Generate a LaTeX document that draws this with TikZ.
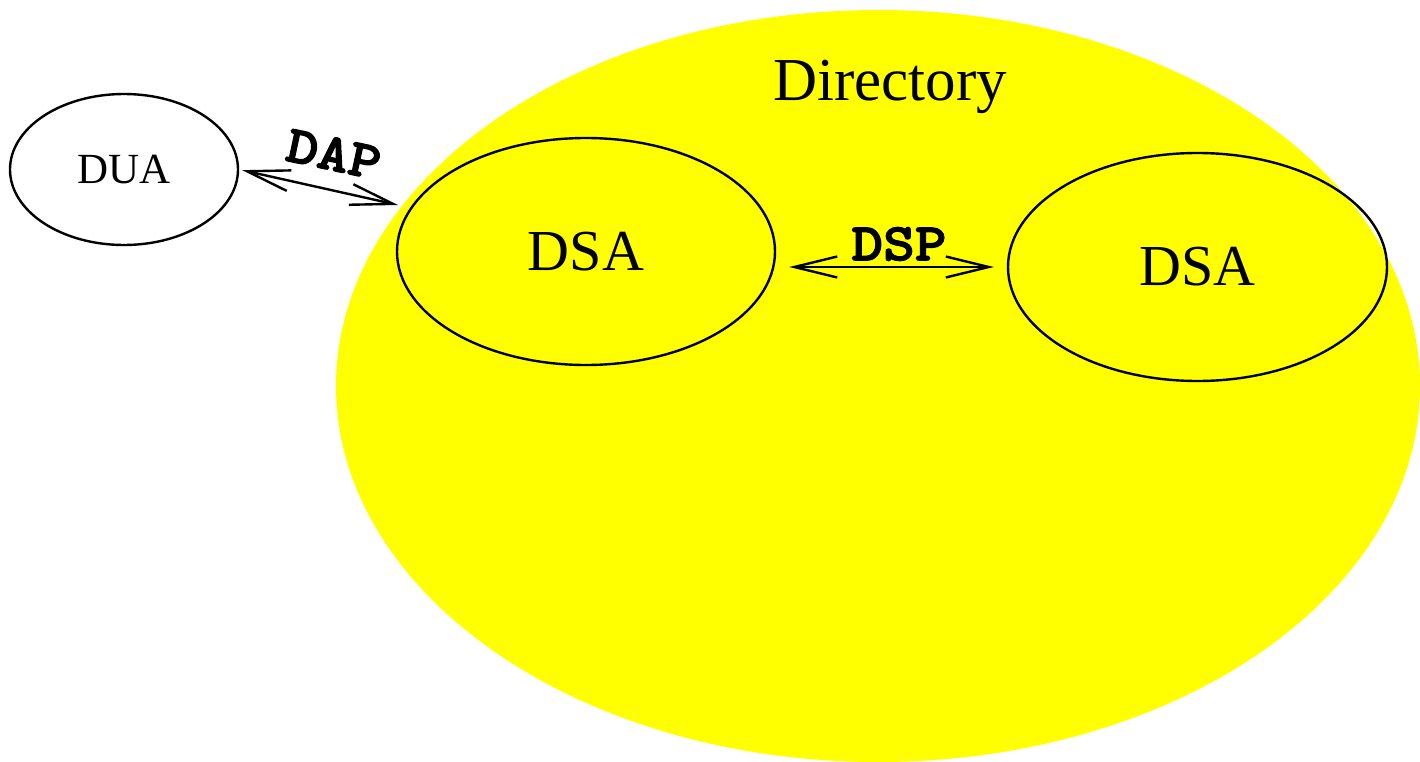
\documentclass[tikz,border=0pt]{standalone}
\usepackage{fontspec}
\setmainfont{Liberation Serif}
\newfontfamily\monofont[FakeBold=2.2,FakeStretch=1.14]{lmmonolt10-bold.otf}
\usetikzlibrary{shapes.geometric,arrows.meta}
\definecolor{dirYellow}{RGB}{255,255,0}
\tikzset{
  agent/.style={draw=black, line width=2.4pt, ellipse, inner sep=0pt},
  link/.style={line width=2.4pt, {Straight Barb[length=43pt,width=21pt]}-{Straight Barb[length=43pt,width=21pt]}},
  proto/.style={font=\monofont\fontsize{53}{55}\selectfont, inner sep=0pt},
}
\begin{document}
\begin{tikzpicture}[x=1pt,y=-1pt]
\useasboundingbox (0,0) rectangle (1420,762);
\fill[dirYellow] (878,386) ellipse [x radius=542, y radius=376];
\node[inner sep=0pt, font=\fontsize{61}{63}\selectfont] (dir) at (890,87) {Directory};
\node[agent, minimum width=228pt, minimum height=151pt,
      font=\fontsize{43}{45}\selectfont] (dua) at (124,169.5) {DUA};
\node[agent, minimum width=378pt, minimum height=227pt,
      font=\fontsize{58}{60}\selectfont] (dsa1) at (586,251.5) {\raisebox{-3pt}{DSA}};
\node[agent, minimum width=379pt, minimum height=228pt,
      font=\fontsize{58}{60}\selectfont] (dsa2) at (1197.5,267) {\raisebox{-3pt}{DSA}};
\coordinate (dapend) at (398,205);
\draw[link, shorten <=3pt] (dua.east) -- (dapend);
\draw[link, shorten <=13pt, shorten >=13pt] (dsa1.east |- dsa2.west) -- (dsa2.west);
\node[proto, rotate=-12] (dap) at (334,154) {DAP};
\node[proto] (dsp) at (899,244) {DSP};
\end{tikzpicture}
\end{document}
